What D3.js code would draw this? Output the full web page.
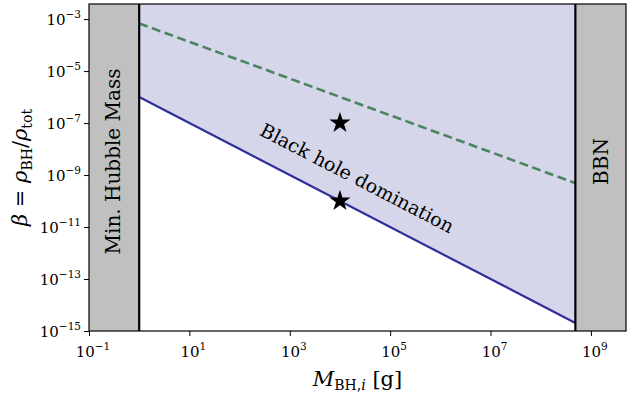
<!DOCTYPE html>
<html>
<head>
<meta charset="utf-8">
<script src="https://cdn.jsdelivr.net/npm/d3@7"></script>
<style>
  body { margin: 0; background: #fff; }
  svg { display: block; }
  text { font-family: "DejaVu Serif", serif; fill: #000; }
</style>
</head>
<body>
<svg id="chart"></svg>
<script>
// Axis limits
const xDomain = [1e-1, 5e9];
const yDomain = [1e-15, 3.8e-3];
const xTicks = [1e-1, 1e1, 1e3, 1e5, 1e7, 1e9];
const yTicks = [1e-15, 1e-13, 1e-11, 1e-9, 1e-7, 1e-5, 1e-3];

// Excluded regions
const hubbleMass = 1;      // g
const bbnMass = 4.9e8;     // g

// Lines (endpoints in log-log)
const domMass = [1, 4.9e8];
const domBeta = [1e-6, 2.04e-15];
const dashMass = [1, 4.9e8];
const dashBeta = [6.8e-4, 4.9e-10];

// Benchmark stars
const starMass = [1e4, 1e4];
const starBeta = [1e-7, 1e-10];

const width = 632, height = 395;
const margin = { top: 4, right: 6, bottom: 64, left: 89 };
const chartWidth = width - margin.left - margin.right;
const chartHeight = height - margin.top - margin.bottom;

const svg = d3.select("#chart")
  .attr("width", width)
  .attr("height", height);

const chart = svg.append("g")
  .attr("transform", `translate(${margin.left},${margin.top})`);

const xScale = d3.scaleLog().domain(xDomain).range([0, chartWidth]);
const yScale = d3.scaleLog().domain(yDomain).range([chartHeight, 0]);

chart.append("clipPath").attr("id", "clip")
  .append("rect").attr("width", chartWidth).attr("height", chartHeight);

const plot = chart.append("g").attr("clip-path", "url(#clip)");

// Shaded domination region (above the blue line)
const domData = domMass.map((m, i) => ({ m, b: domBeta[i] }));
plot.append("path")
  .datum(domData)
  .attr("fill", "#d6d6ea")
  .attr("d", d3.area()
    .x(d => xScale(d.m))
    .y0(0)
    .y1(d => yScale(d.b)));

// Grey bands
plot.append("rect")
  .attr("x", 0).attr("y", 0)
  .attr("width", xScale(hubbleMass))
  .attr("height", chartHeight)
  .attr("fill", "#c0c0c0");

plot.append("rect")
  .attr("x", xScale(bbnMass)).attr("y", 0)
  .attr("width", chartWidth - xScale(bbnMass))
  .attr("height", chartHeight)
  .attr("fill", "#c0c0c0");

// Lines
const line = d3.line().x(d => xScale(d.m)).y(d => yScale(d.b));

plot.append("path")
  .datum(dashMass.map((m, i) => ({ m, b: dashBeta[i] })))
  .attr("fill", "none")
  .attr("stroke", "#4a8560")
  .attr("stroke-width", 2.6)
  .attr("stroke-dasharray", "9,4.5")
  .attr("d", line);

plot.append("path")
  .datum(domData)
  .attr("fill", "none")
  .attr("stroke", "#2e2e9c")
  .attr("stroke-width", 2.2)
  .attr("d", line);

// Vertical boundaries
[hubbleMass, bbnMass].forEach(m => {
  plot.append("line")
    .attr("x1", xScale(m)).attr("x2", xScale(m))
    .attr("y1", 0).attr("y2", chartHeight)
    .attr("stroke", "#000")
    .attr("stroke-width", 2.2);
});

// Stars
const star = d3.symbol().type(d3.symbolStar).size(140);
plot.selectAll(".star")
  .data(starMass.map((m, i) => ({ m, b: starBeta[i] })))
  .enter()
  .append("path")
  .attr("class", "star")
  .attr("transform", d => `translate(${xScale(d.m)},${yScale(d.b)})`)
  .attr("d", star)
  .attr("fill", "#000");

// Band labels
chart.append("text")
  .attr("transform", `translate(${xScale(hubbleMass) / 2 + 6},${chartHeight / 2 - 6}) rotate(-90)`)
  .attr("text-anchor", "middle")
  .attr("font-size", "20px")
  .text("Min. Hubble Mass");

chart.append("text")
  .attr("transform", `translate(${(xScale(bbnMass) + chartWidth) / 2 + 7},${chartHeight / 2 - 6}) rotate(-90)`)
  .attr("text-anchor", "middle")
  .attr("font-size", "20px")
  .text("BBN");

// Region label, aligned with blue line
const ang = Math.atan2(yScale(domBeta[1]) - yScale(domBeta[0]), xScale(domMass[1]) - xScale(domMass[0])) * 180 / Math.PI;
chart.append("text")
  .attr("transform", `translate(${xScale(2.2e4)},${yScale(7.6e-10)}) rotate(${ang})`)
  .attr("text-anchor", "middle")
  .attr("dy", "0.35em")
  .attr("font-size", "19px")
  .text("Black hole domination");

// Frame
chart.append("rect")
  .attr("width", chartWidth).attr("height", chartHeight)
  .attr("fill", "none").attr("stroke", "#000").attr("stroke-width", 1.2);

// Axes
const xAxis = chart.append("g")
  .attr("transform", `translate(0,${chartHeight})`)
  .call(d3.axisBottom(xScale).tickValues(xTicks).tickFormat("").tickSize(5));
const yAxis = chart.append("g")
  .call(d3.axisLeft(yScale).tickValues(yTicks).tickFormat("").tickSize(5));

[xAxis, yAxis].forEach(a => {
  a.select(".domain").remove();
  a.selectAll("line").attr("stroke", "#000").attr("stroke-width", 1);
});

// power-of-ten labels
function powLabel(sel, v) {
  const e = Math.round(Math.log10(v));
  sel.append("tspan").attr("font-size", "15px").text("10");
  sel.append("tspan").attr("font-size", "10.5px").attr("dy", -7).text(e < 0 ? "−" + (-e) : String(e));
}

xTicks.forEach(v => {
  const t = xAxis.append("text")
    .attr("x", xScale(v) + 4)
    .attr("y", 26)
    .attr("text-anchor", "middle");
  powLabel(t, v);
});

yTicks.forEach(v => {
  const t = yAxis.append("text")
    .attr("x", -8)
    .attr("y", yScale(v) + 6)
    .attr("text-anchor", "end");
  powLabel(t, v);
});

// Axis titles
const xl = svg.append("text")
  .attr("x", margin.left + chartWidth / 2)
  .attr("y", 386)
  .attr("text-anchor", "middle")
  .attr("font-size", "21px");
xl.append("tspan").attr("font-style", "italic").text("M");
xl.append("tspan").attr("font-size", "14px").attr("dy", 4).text("BH,");
xl.append("tspan").attr("font-size", "14px").attr("font-style", "italic").text("i");
xl.append("tspan").attr("dy", -4).text("  [g]");

const yl = svg.append("text")
  .attr("transform", `translate(27,${margin.top + chartHeight / 2}) rotate(-90)`)
  .attr("text-anchor", "middle")
  .attr("font-size", "21px");
yl.append("tspan").attr("font-style", "italic").text("β");
yl.append("tspan").text(" = ");
yl.append("tspan").attr("font-style", "italic").text("ρ");
yl.append("tspan").attr("font-size", "14px").attr("dy", 5).text("BH");
yl.append("tspan").attr("dy", -5).text("/");
yl.append("tspan").attr("font-style", "italic").text("ρ");
yl.append("tspan").attr("font-size", "14px").attr("dy", 5).text("tot");
</script>
</body>
</html>
